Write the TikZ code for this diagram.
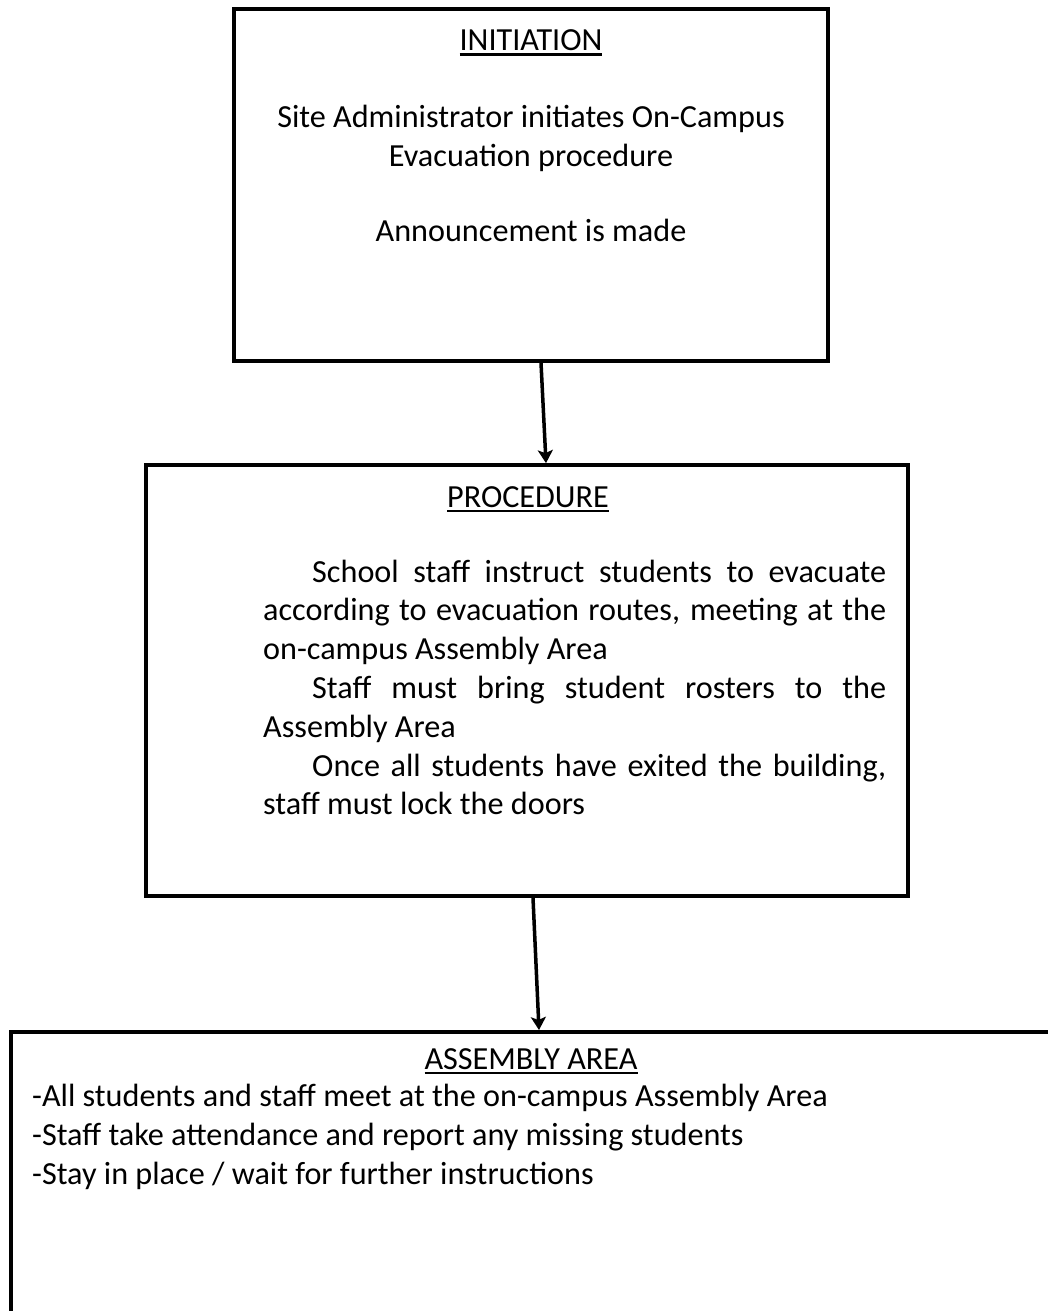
\documentclass[tikz,border=0pt]{standalone}
\usepackage{fontspec}
\setmainfont{Carlito}
\usetikzlibrary{arrows.meta}
\newcommand{\headline}[1]{\setbox0\hbox{#1}\rlap{\rule[-5pt]{\wd0}{2.5pt}}\box0}

\begin{document}
\begin{tikzpicture}[
  every node/.style={inner sep=0pt, font=\fontsize{32.2pt}{38.8pt}\selectfont},
  box/.style={rectangle, draw=black, line width=3.75pt},
  head/.style={anchor=base},
  flow/.style={line width=3.5pt, -{Stealth[length=13pt, width=15pt, inset=3pt]}}
]
\useasboundingbox (0pt,0pt) rectangle (1048pt,-1311pt);
\clip (0pt,0pt) rectangle (1048pt,-1311pt);
\fill [white] (0pt,0pt) rectangle (1048pt,-1311pt);
% boxes
\node (init) [box, minimum width=594pt, minimum height=352pt] at (531pt,-185pt) {};
\node (proc) [box, minimum width=762pt, minimum height=431pt] at (527pt,-680.5pt) {};
\node (asm) [box, minimum width=1100pt, minimum height=320pt, anchor=north west] at (9pt,-1030pt) {};
% texts (base of a multi-line node = its last line)
\node (init title) [head] at (531pt,-51pt) {\headline{INITIATION}};
\node (init text) [head, align=center] at (531pt,-166pt) {Site Administrator initiates On-Campus\\Evacuation procedure};
\node (init note) [head] at (531pt,-241pt) {Announcement is made};
\node (proc title) [head] at (528pt,-507pt) {\headline{PROCEDURE}};
\node (proc text) [anchor=base west, text width=623pt, align=justify] at (263pt,-582pt) {%
\hspace*{49pt}School staff instruct students to evacuate\linebreak according to evacuation routes, meeting at the\linebreak on-campus Assembly Area\par
\hspace*{49pt}Staff must bring student rosters to the\linebreak Assembly Area\par
\hspace*{49pt}Once all students have exited the building,\linebreak staff must lock the doors};
\node (asm title) [head] at (531pt,-1069pt) {\headline{ASSEMBLY AREA}};
\node (asm text) [anchor=base west, align=left] at (32pt,-1184pt) {-All students and staff meet at the on-campus Assembly Area\\-Staff take attendance and report any missing students\\-Stay in place / wait for further instructions};
% arrows
\draw [flow] ([xshift=10pt]init.south) to ([xshift=19pt]proc.north);
\draw [flow] ([xshift=6pt]proc.south) to ([xshift=530pt]asm.north west);
\end{tikzpicture}
\end{document}
